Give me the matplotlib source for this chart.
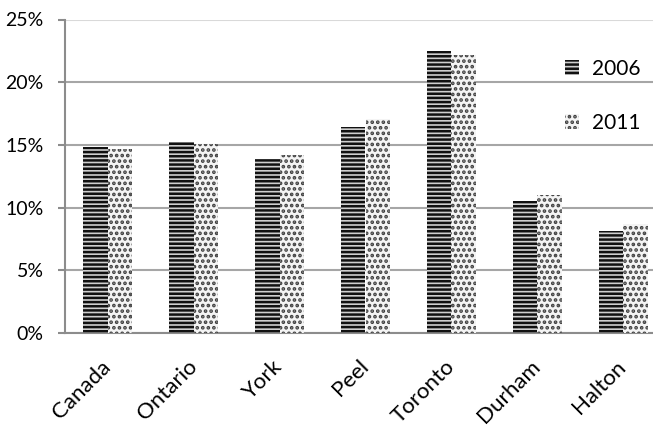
import numpy as np
import matplotlib
matplotlib.use("Agg")
import matplotlib.pyplot as plt
from matplotlib.ticker import FuncFormatter

regions = ["Canada", "Ontario", "York", "Peel", "Toronto", "Durham", "Halton"]
share_2006 = [14.8, 15.2, 13.9, 16.4, 22.5, 10.5, 8.1]
share_2011 = [14.7, 15.1, 14.2, 17.1, 22.2, 11.0, 8.7]

plt.rcParams.update(
    {
        "font.family": ["Lato", "DejaVu Sans"],
        "hatch.linewidth": 1.8,
        "figure.dpi": 100,
    }
)

fig = plt.figure(figsize=(6.53, 4.26), dpi=100)
# plot area runs a bit past the right edge of the picture, like the original crop
ax = fig.add_axes([65 / 653, 93 / 426, 601 / 653, 313.5 / 426])

x = np.arange(len(regions))
bar_w = 0.285

ax.bar(x - bar_w / 2, share_2006, width=bar_w, facecolor="#cfcfcf",
       edgecolor="#111111", linewidth=0, hatch="----", label="2006", zorder=3)
ax.bar(x + bar_w / 2, share_2011, width=bar_w, facecolor="#f4f4f4",
       edgecolor="#404040", linewidth=0, hatch="...", label="2011", zorder=3)

ax.set_xlim(-0.5, len(regions) - 0.5)
ax.set_ylim(0, 25)
ax.set_yticks([0, 5, 10, 15, 20, 25])
ax.yaxis.set_major_formatter(FuncFormatter(lambda v, p: f"{v:.0f}%"))
ax.grid(axis="y", color="#a6a6a6", linewidth=1.5, zorder=0)
ax.set_axisbelow(True)
ax.get_ygridlines()[-1].set_color("#d9d9d9")

for s in ["top", "right"]:
    ax.spines[s].set_visible(False)
ax.spines["left"].set_color("#8c8c8c")
ax.spines["left"].set_linewidth(1.5)
ax.spines["bottom"].set_color("#8c8c8c")
ax.spines["bottom"].set_linewidth(1.5)

ax.tick_params(axis="y", length=5, width=1.5, color="#8c8c8c", labelsize=14, pad=10.5)
ax.tick_params(axis="x", length=0, labelsize=16, pad=22)
ax.set_xticks(x)
ax.set_xticklabels(regions, rotation=45, ha="right", va="center", rotation_mode="anchor")

leg = ax.legend(loc="upper left", bbox_to_anchor=(0.80, 0.935), frameon=False,
                fontsize=15, handlelength=0.7, handleheight=0.7,
                handletextpad=0.6, labelspacing=1.65)

fig.savefig("out.png", dpi=100)
